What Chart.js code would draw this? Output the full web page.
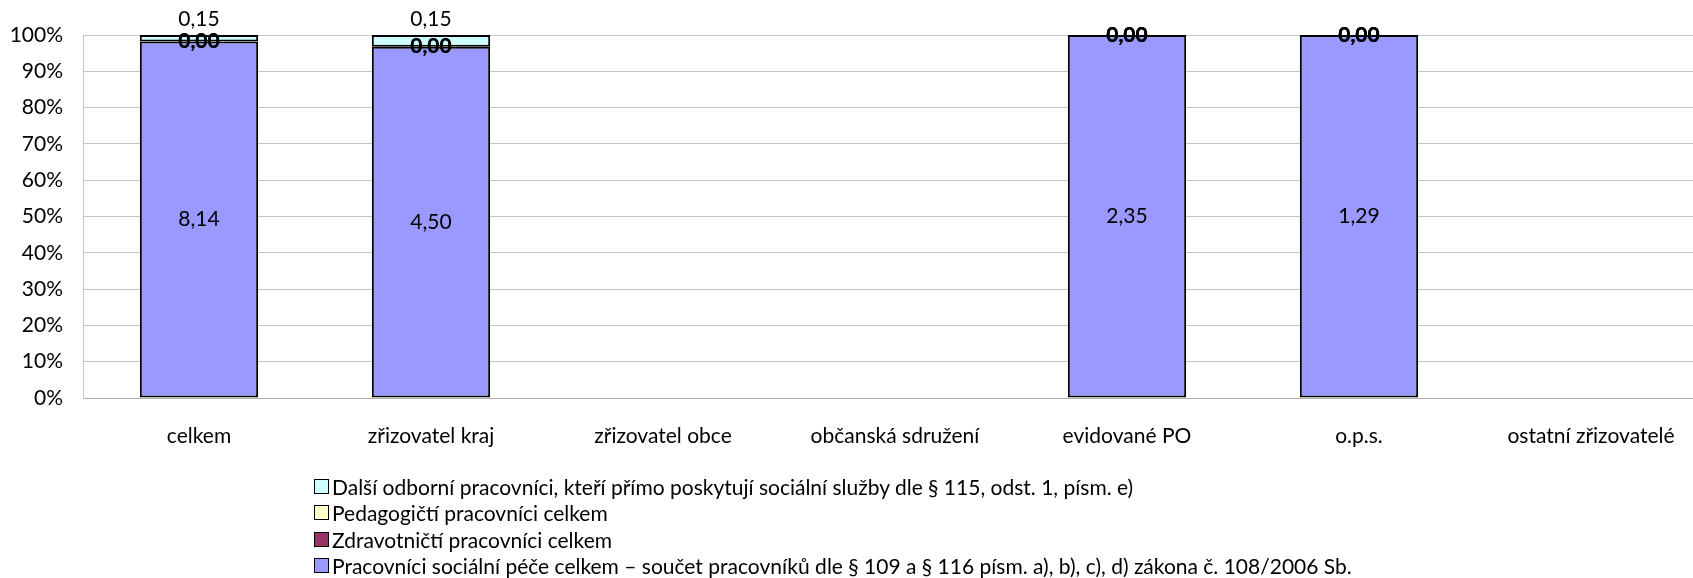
<!DOCTYPE html>
<html>
<head>
<meta charset="utf-8">
<script src="https://cdn.jsdelivr.net/npm/chart.js@4/dist/chart.umd.min.js"></script>
<style>
    html, body { margin: 0; padding: 0; background: #fff; overflow: hidden; }
    #wrap { position: relative; width: 1712px; height: 578px; }
    #legend { position: absolute; left: 314px; top: 473px; font-family: Lato, "Open Sans", sans-serif; font-size: 21px; color: #000; }
    .item { height: 26.5px; white-space: nowrap; display: flex; align-items: center; }
    .box { width: 13px; height: 13px; border: 1px solid #000; margin-right: 3px; flex: none; }
</style>
</head>
<body>
<div id="wrap">
    <canvas id="chart" width="1712" height="578"></canvas>
    <div id="legend"></div>
</div>
<script>
var categories = ['celkem', 'zřizovatel kraj', 'zřizovatel obce', 'občanská sdružení', 'evidované PO', 'o.p.s.', 'ostatní zřizovatelé'];

// raw values per series (bottom of stack first)
var socialniPece = [8.14, 4.50, null, null, 2.35, 1.29, null];
var zdravotnicti = [0, 0, null, null, 0, 0, null];
var pedagogicti = [0, 0, null, null, 0, 0, null];
var dalsiOdborni = [0.15, 0.15, null, null, 0, 0, null];

var seriesNames = [
    'Pracovníci sociální péče celkem – součet pracovníků dle § 109 a § 116 písm. a), b), c), d) zákona č. 108/2006 Sb.',
    'Zdravotničtí pracovníci celkem',
    'Pedagogičtí pracovníci celkem',
    'Další odborní pracovníci, kteří přímo poskytují sociální služby dle § 115, odst. 1, písm. e)'
];
var seriesColors = ['#9999FF', '#993366', '#FFFFCC', '#CCFFFF'];
var yTicks = [0, 10, 20, 30, 40, 50, 60, 70, 80, 90, 100];

var rawSeries = [socialniPece, zdravotnicti, pedagogicti, dalsiOdborni];
var fontFamily = 'Lato, "Open Sans", sans-serif';
var fontSize = 21;

// totals for the 100% stacking
var totals = categories.map(function (c, j) {
    var sum = null;
    rawSeries.forEach(function (s) {
        if (s[j] !== null) sum = (sum || 0) + s[j];
    });
    return sum;
});

var datasets = rawSeries.map(function (s, i) {
    return {
        label: seriesNames[i],
        data: s.map(function (v, j) {
            return (v === null || !totals[j]) ? null : v / totals[j] * 100;
        }),
        backgroundColor: seriesColors[i],
        borderColor: '#000',
        borderWidth: 2,
        borderSkipped: false,
        categoryPercentage: 1,
        barPercentage: 0.51
    };
});

function fmt(v) {
    return v.toFixed(2).replace('.', ',');
}

var valueLabels = {
    id: 'valueLabels',
    afterDatasetsDraw: function (chart) {
        var c = chart.ctx;
        c.save();
        c.fillStyle = '#000';
        c.textAlign = 'center';
        c.textBaseline = 'middle';
        rawSeries.forEach(function (s, i) {
            var meta = chart.getDatasetMeta(i);
            meta.data.forEach(function (el, j) {
                if (s[j] === null) return;
                var y = (el.y + el.base) / 2;
                if (i === rawSeries.length - 1 && s[j] > 0) {
                    y = el.y - 16;
                }
                // zero labels sit on top of each other, which looks bold in the original
                c.font = (s[j] === 0 ? 'bold ' : '') + fontSize + 'px ' + fontFamily;
                c.fillText(fmt(s[j]), el.x, y);
            });
        });
        c.restore();
    }
};

var ctx = document.getElementById('chart').getContext('2d');
var chart = new Chart(ctx, {
    type: 'bar',
    data: {
        labels: categories,
        datasets: datasets
    },
    options: {
        responsive: false,
        animation: false,
        layout: {
            padding: { top: 35, right: 5, left: 0, bottom: 0 }
        },
        plugins: {
            legend: { display: false },
            tooltip: { enabled: false }
        },
        scales: {
            x: {
                stacked: true,
                grid: { display: false, drawTicks: false },
                border: { display: true, color: '#B0B0B0', width: 1 },
                ticks: {
                    padding: 26,
                    color: '#000',
                    font: { family: fontFamily, size: fontSize },
                    maxRotation: 0,
                    autoSkip: false
                },
                afterFit: function (s) { s.height = 180; }
            },
            y: {
                stacked: true,
                min: 0,
                max: 100,
                afterBuildTicks: function (s) {
                    s.ticks = yTicks.map(function (v) { return { value: v }; });
                },
                grid: { color: '#C4C4C4', lineWidth: 1, drawTicks: false },
                border: { display: true, color: '#C4C4C4', width: 1 },
                ticks: {
                    padding: 20,
                    color: '#000',
                    font: { family: fontFamily, size: fontSize },
                    callback: function (v) { return v + '%'; }
                },
                afterFit: function (s) { s.width = 83; }
            }
        }
    },
    plugins: [valueLabels]
});

// legend: top item is the last series, as in the original
var legendEl = document.getElementById('legend');
for (var i = seriesNames.length - 1; i >= 0; i--) {
    var row = document.createElement('div');
    row.className = 'item';
    var box = document.createElement('span');
    box.className = 'box';
    box.style.background = seriesColors[i];
    var txt = document.createElement('span');
    txt.textContent = seriesNames[i];
    row.appendChild(box);
    row.appendChild(txt);
    legendEl.appendChild(row);
}
</script>
</body>
</html>
